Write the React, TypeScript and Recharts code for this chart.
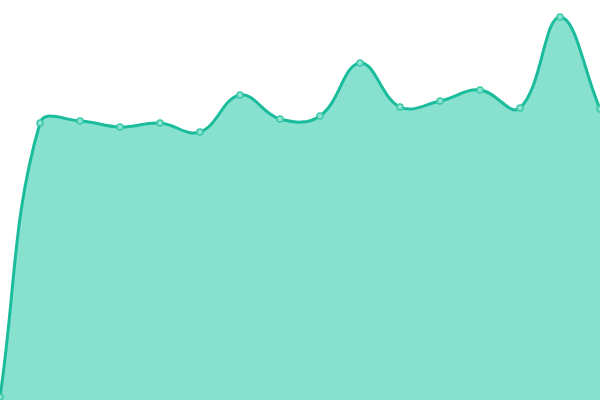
import React from "react";
import { Area, AreaChart, XAxis, YAxis } from "recharts";

const labels = ["1", "2", "3", "4", "5", "6", "7", "8", "9", "10", "11", "12", "13", "14", "15", "16"];
const values = [3, 277, 279, 273, 277, 268, 305, 281, 284, 337, 293, 299, 310, 292, 383, 291];

const data = labels.map((label, i) => ({ label, value: values[i] }));

// Chart.js-style tension spline (tension 0.4) as a d3 curve factory
function tensionCurve(context: any) {
  const t = 0.4;
  let line = NaN;
  let pts: Array<[number, number]> = [];
  return {
    areaStart() {
      line = 0;
    },
    areaEnd() {
      line = NaN;
    },
    lineStart() {
      pts = [];
    },
    point(x: number, y: number) {
      pts.push([+x, +y]);
    },
    lineEnd() {
      const n = pts.length;
      if (n) {
        if (line) context.lineTo(pts[0][0], pts[0][1]);
        else context.moveTo(pts[0][0], pts[0][1]);
        const ctrl = pts.map((p, i) => {
          const prev = pts[i - 1] || p;
          const next = pts[i + 1] || p;
          const d01 = Math.hypot(p[0] - prev[0], p[1] - prev[1]);
          const d12 = Math.hypot(next[0] - p[0], next[1] - p[1]);
          const sum = d01 + d12 || 1;
          const fa = (t * d01) / sum;
          const fb = (t * d12) / sum;
          return {
            px: p[0] - fa * (next[0] - prev[0]),
            py: p[1] - fa * (next[1] - prev[1]),
            nx: p[0] + fb * (next[0] - prev[0]),
            ny: p[1] + fb * (next[1] - prev[1]),
          };
        });
        for (let i = 1; i < n; i++) {
          context.bezierCurveTo(ctrl[i - 1].nx, ctrl[i - 1].ny, ctrl[i].px, ctrl[i].py, pts[i][0], pts[i][1]);
        }
      }
      if (line || (line !== 0 && n === 1)) context.closePath();
      line = 1 - line;
    },
  };
}

export default function App() {
  return (
    <div style={{ position: "fixed", top: 0, left: 0, width: 600, height: 400, background: "#ffffff" }}>
      <AreaChart width={600} height={400} data={data} margin={{ top: 0, right: 0, bottom: 0, left: 0 }}>
        <XAxis dataKey="label" hide padding={{ left: 0, right: 0 }} />
        <YAxis hide domain={[0, 400]} />
        <Area
          type={tensionCurve as any}
          dataKey="value"
          stroke="#1abc9c"
          strokeWidth={3}
          fill="#88e0cf"
          fillOpacity={1}
          dot={{ r: 3, fill: "#8ce3d1", stroke: "#3cc9a9", strokeWidth: 1.5 }}
          activeDot={false}
          isAnimationActive={false}
        />
      </AreaChart>
    </div>
  );
}
